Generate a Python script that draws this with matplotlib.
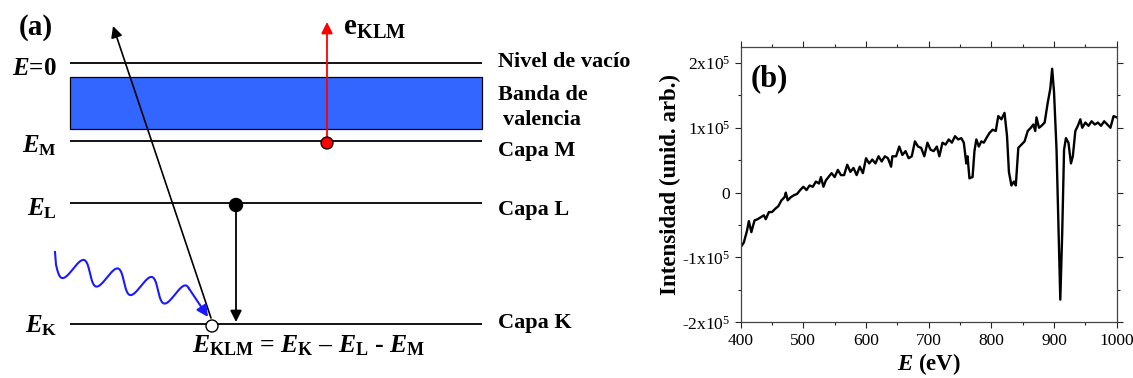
"""Auger process scheme (a) and Auger spectrum (b)."""

import matplotlib

matplotlib.use("Agg")

import matplotlib.pyplot as plt
import numpy as np
from matplotlib.patches import Circle, Rectangle
from matplotlib.ticker import FixedLocator, MultipleLocator

# ---- panel (b) data: spectrum (E in eV, intensity in 1e5) ----
energy = [
    400, 405, 410, 413, 417, 422, 427, 432, 437, 440, 445, 450, 455, 460, 465,
    470, 472, 475, 480, 485, 490, 495, 500, 505, 510, 515, 520, 525, 528, 532,
    536, 540, 545, 550, 555, 560, 565, 570, 575, 580, 585, 590, 595, 600, 605,
    610, 615, 620, 625, 630, 635, 640, 642, 648, 653, 658, 663, 668, 673, 678,
    683, 688, 693, 698, 703, 708, 713, 717, 722, 727, 732, 737, 742, 747, 752,
    756, 760, 762, 765, 770, 773, 776, 780, 784, 788, 792, 797, 802, 807, 811,
    816, 821, 825, 828, 832, 836, 839, 843, 848, 853, 858, 863, 867, 870, 872,
    876, 880, 885, 890, 894, 897, 900, 904, 908, 910, 913, 916, 919, 923, 927,
    930, 934, 938, 942, 945, 950, 955, 960, 965, 970, 975, 980, 985, 990, 995,
    1000,
]
intensity = [
    -0.84, -0.77, -0.59, -0.44, -0.61, -0.43, -0.41, -0.38, -0.35, -0.41, -0.30,
    -0.30, -0.25, -0.21, -0.12, -0.07, 0.00, -0.12, -0.07, -0.04, -0.02, 0.04,
    0.09, 0.04, 0.11, 0.09, 0.17, 0.14, 0.24, 0.09, 0.19, 0.24, 0.30, 0.24,
    0.35, 0.27, 0.27, 0.43, 0.32, 0.38, 0.27, 0.40, 0.30, 0.53, 0.45, 0.51,
    0.45, 0.56, 0.48, 0.56, 0.53, 0.40, 0.56, 0.56, 0.71, 0.58, 0.64, 0.53,
    0.56, 0.79, 0.71, 0.69, 0.56, 0.77, 0.66, 0.64, 0.71, 0.56, 0.77, 0.74,
    0.82, 0.77, 0.87, 0.82, 0.84, 0.77, 0.45, 0.56, 0.22, 0.24, 0.64, 0.82,
    0.71, 0.79, 0.77, 0.84, 0.92, 0.97, 0.95, 1.18, 1.13, 1.23, 0.87, 0.32,
    0.11, 0.17, 0.11, 0.69, 0.74, 0.79, 0.95, 1.00, 1.05, 0.95, 1.16, 1.00,
    1.03, 1.08, 1.39, 1.60, 1.91, 1.55, 0.66, -0.90, -1.65, -0.64, 0.66, 0.84,
    0.77, 0.45, 0.56, 0.95, 1.03, 1.13, 1.00, 1.08, 1.03, 1.10, 1.05, 1.08,
    1.03, 1.10, 1.05, 1.00, 1.18, 1.16,
]
ytick_values = [-2, -1, 0, 1, 2]
ytick_labels = [
    "-2x10$^{\\mathregular{5}}$",
    "-1x10$^{\\mathregular{5}}$",
    "0",
    "1x10$^{\\mathregular{5}}$",
    "2x10$^{\\mathregular{5}}$",
]

# ---- panel (a) data: energy levels of the scheme (diagram units, y grows down) ----
level_y = [63, 141, 203, 324]
level_left = [r"$E$=0", r"$E_{\mathrm{M}}$", r"$E_{\mathrm{L}}$", r"$E_{\mathrm{K}}$"]
level_right = ["Nivel de vacío", "Capa M", "Capa L", "Capa K"]
band_top, band_bottom = 77, 129

plt.rcParams["font.family"] = ["Liberation Serif", "DejaVu Serif"]
plt.rcParams["mathtext.fontset"] = "custom"
plt.rcParams["mathtext.rm"] = "Liberation Serif:bold"
plt.rcParams["mathtext.bf"] = "Liberation Serif:bold"
plt.rcParams["mathtext.it"] = "Liberation Serif:italic:bold"

fig = plt.figure(figsize=(11.33, 3.78), dpi=100)

# ------------------------- panel (a) -------------------------
ax = fig.add_axes([0, 0, 640 / 1133, 1])
ax.set_xlim(0, 640)
ax.set_ylim(378, 0)
ax.axis("off")

x0, x1 = 70, 482
left_base = [75, 152, 215, 332]
right_base = [67, 156, 215, 328]
for y, left, right, lb, rb in zip(level_y, level_left, level_right, left_base, right_base):
    ax.plot([x0, x1], [y, y], color="black", lw=1.3, solid_capstyle="butt")
    ax.text(57, lb, left, ha="right", va="baseline", fontsize=18, fontweight="bold")
    ax.text(498, rb, right, ha="left", va="baseline", fontsize=16, fontweight="bold")

ax.add_patch(Rectangle((x0, band_top), x1 - x0, band_bottom - band_top,
                       facecolor="#3366ff", edgecolor="black", lw=0.9))
ax.text(498, 100, "Banda de", ha="left", va="baseline", fontsize=16, fontweight="bold")
ax.text(503, 125, "valencia", ha="left", va="baseline", fontsize=16, fontweight="bold")

ax.text(19, 35, "(a)", ha="left", va="baseline", fontsize=21, fontweight="bold")

# emitted Auger electron (red)
ax.annotate("", xy=(327, 22), xytext=(327, 143),
            arrowprops=dict(arrowstyle="-|>", color="red", lw=1.3, mutation_scale=17,
                            shrinkA=0, shrinkB=0))
ax.add_patch(Circle((327, 143), 6, facecolor="red", edgecolor="black", lw=0.9, zorder=5))
ax.text(343, 35, r"$\mathrm{e}_{\mathrm{KLM}}$", ha="left", va="baseline", fontsize=21)

# L -> K transition
ax.annotate("", xy=(236, 322), xytext=(236, 205),
            arrowprops=dict(arrowstyle="-|>", color="black", lw=1.3, mutation_scale=17,
                            shrinkA=0, shrinkB=0))
ax.add_patch(Circle((236, 205), 6.5, facecolor="black", edgecolor="black", zorder=5))

# ejected core electron (black, long arrow)
ax.annotate("", xy=(113, 26), xytext=(211, 318),
            arrowprops=dict(arrowstyle="-|>", color="black", lw=1.2, mutation_scale=17,
                            shrinkA=0, shrinkB=0))

# incoming photon (blue wavy arrow, skewed wave: slow rise, quick fall)
t = np.linspace(-np.pi / 2, 7 * np.pi + 0.6, 400)
wx = 62 + 5.41 * t - 2.5 * (np.cos(t) - 1)
wy = 266.25 + 0.25 * (wx - 62) + 11.75 * np.cos(t)
wx = np.concatenate([[55], wx])
wy = np.concatenate([[252], wy])
ax.plot(wx, wy, color="#1a1aff", lw=1.5)
ax.annotate("", xy=(208, 317), xytext=(wx[-1], wy[-1]),
            arrowprops=dict(arrowstyle="-|>", color="#1a1aff", lw=1.5, mutation_scale=17,
                            shrinkA=0, shrinkB=0))

ax.add_patch(Circle((212, 326), 6, facecolor="white", edgecolor="black", lw=1.0, zorder=6))

ax.text(192, 352,
        r"$E_{\mathrm{KLM}}$ = $E_{\mathrm{K}}$ – $E_{\mathrm{L}}$ - $E_{\mathrm{M}}$",
        ha="left", va="baseline", fontsize=18.5, fontweight="bold")

# ------------------------- panel (b) -------------------------
bx = fig.add_axes([740.7 / 1133, (378 - 322.3) / 378, 376 / 1133, 275.6 / 378])
bx.plot(energy, intensity, color="black", lw=1.7)
bx.set_xlim(400, 1000)
bx.set_ylim(-2, 2.25)
bx.xaxis.set_major_locator(MultipleLocator(100))
bx.xaxis.set_minor_locator(MultipleLocator(50))
bx.yaxis.set_major_locator(FixedLocator(ytick_values))
bx.yaxis.set_minor_locator(MultipleLocator(0.5))
bx.set_yticklabels(ytick_labels)
bx.tick_params(which="both", direction="out", top=True, right=True, labelsize=12.5,
               width=0.8, colors="#222222", labelcolor="black")
bx.tick_params(which="major", length=4)
bx.tick_params(which="minor", length=2.5)
for s in bx.spines.values():
    s.set_color("#444444")
    s.set_linewidth(0.9)
bx.set_xlabel(r"$E$ (eV)", fontsize=16.5, fontweight="bold", labelpad=2)
bx.set_ylabel("Intensidad (unid. arb.)", fontsize=16.5, fontweight="bold", labelpad=1)
bx.text(0.027, 0.885, "(b)", transform=bx.transAxes, ha="left", va="center",
        fontsize=22, fontweight="bold")

fig.savefig("out.png", dpi=100)
